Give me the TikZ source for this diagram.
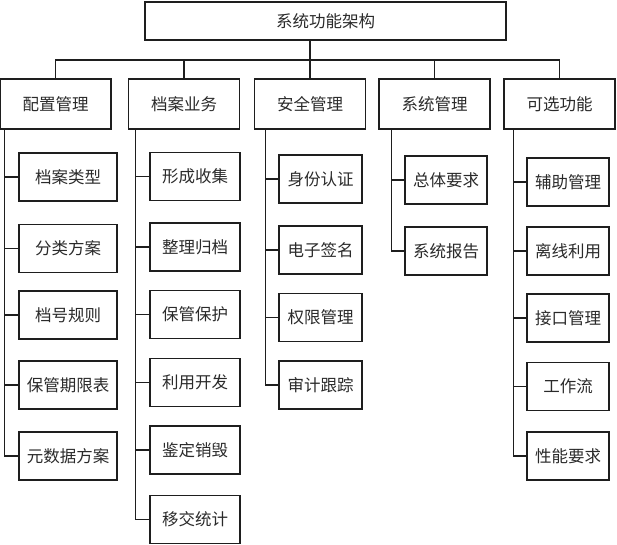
\documentclass[tikz,border=0pt]{standalone}
\usepackage{fontspec}
\usepackage{tikz}
\newfontfamily\cjk{Noto Sans CJK SC}
\definecolor{ink}{HTML}{1E1E1E}
\definecolor{txt}{HTML}{2A2A2A}
\tikzset{
  box/.style={draw=ink, line width=1.3pt, inner sep=0pt, text=txt,
    font=\cjk\fontsize{16.5}{20}\selectfont},
  rootbox/.style={box, minimum width=361pt, minimum height=38pt},
  grp/.style={box, minimum width=111pt, minimum height=50pt},
  leaf/.style={box, minimum height=48pt},
  conn/.style={draw=ink, line width=1.1pt},
}

\begin{document}
\begin{tikzpicture}[x=1pt,y=-1pt]
  \useasboundingbox (0,0) rectangle (617,544);
  \coordinate (bus) at (0,60);

  \node[rootbox] (root) at (325.5,21) {系统功能架构};

  % first level
  \node[grp] (cfg) at (55.5,104) {配置管理};
  \node[grp] (arc) at (184,104)  {档案业务};
  \node[grp] (sec) at (310,104)  {安全管理};
  \node[grp] (sys) at (434.5,104) {系统管理};
  \node[grp] (opt) at (559.5,104) {可选功能};

  \draw[conn] (root.south -| sec.north) -- (sec.north);
  \draw[conn] (cfg.north) |- (opt.north |- bus) -- (opt.north);
  \draw[conn] (arc.north) -- (arc.north |- bus);
  \draw[conn] (sys.north) -- (sys.north |- bus);

  % leaves of each group
  \node[leaf,minimum width=98pt] (cfgA) at (68,177)   {档案类型};
  \node[leaf,minimum width=98pt] (cfgB) at (68,248.5) {分类方案};
  \node[leaf,minimum width=98pt] (cfgC) at (68,315)   {档号规则};
  \node[leaf,minimum width=98pt] (cfgD) at (68,385)   {保管期限表};
  \node[leaf,minimum width=98pt] (cfgE) at (68,456)   {元数据方案};

  \node[leaf,minimum width=90pt] (arcA) at (195,176.5) {形成收集};
  \node[leaf,minimum width=90pt] (arcB) at (195,247)   {整理归档};
  \node[leaf,minimum width=90pt] (arcC) at (195,314.5) {保管保护};
  \node[leaf,minimum width=90pt] (arcD) at (195,382.5) {利用开发};
  \node[leaf,minimum width=90pt] (arcE) at (195,450)   {鉴定销毁};
  \node[leaf,minimum width=90pt] (arcF) at (195,519.5) {移交统计};

  \node[leaf,minimum width=83pt] (secA) at (320.5,179)   {身份认证};
  \node[leaf,minimum width=83pt] (secB) at (320.5,250)   {电子签名};
  \node[leaf,minimum width=83pt] (secC) at (320.5,317.5) {权限管理};
  \node[leaf,minimum width=83pt] (secD) at (320.5,385)   {审计跟踪};

  \node[leaf,minimum width=82pt] (sysA) at (446,180) {总体要求};
  \node[leaf,minimum width=82pt] (sysB) at (446,251) {系统报告};

  \node[leaf,minimum width=82pt] (optA) at (568,182)   {辅助管理};
  \node[leaf,minimum width=82pt] (optB) at (568,251)   {离线利用};
  \node[leaf,minimum width=82pt] (optC) at (568,318)   {接口管理};
  \node[leaf,minimum width=82pt] (optD) at (568,386.5) {工作流};
  \node[leaf,minimum width=82pt] (optE) at (568,456)   {性能要求};

  % spines under the groups
  \coordinate (cfgS) at ([xshift=5pt]cfg.south west);
  \coordinate (arcS) at ([xshift=8pt]arc.south west);
  \coordinate (secS) at ([xshift=12pt]sec.south west);
  \coordinate (sysS) at ([xshift=13pt]sys.south west);
  \coordinate (optS) at ([xshift=10pt]opt.south west);

  \foreach \g/\list in {cfg/{A,B,C,D,E}, arc/{A,B,C,D,E,F}, sec/{A,B,C,D},
                        sys/{A,B}, opt/{A,B,C,D,E}}
    \foreach \k in \list
      \draw[conn] (\g S) |- (\g\k.west);
\end{tikzpicture}
\end{document}
